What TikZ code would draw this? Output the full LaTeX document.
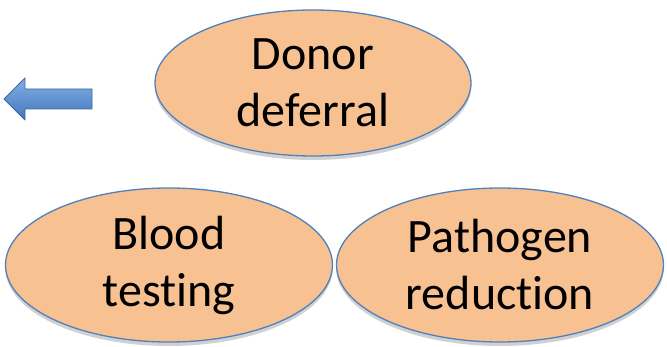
\documentclass[tikz,border=0pt]{standalone}
\usepackage{fontspec}
\setmainfont[Ligatures=NoCommon]{Carlito}
\usepackage{tikz}
\usetikzlibrary{shapes.geometric, shadows}

\definecolor{peach}{RGB}{248,193,146}
\definecolor{rimblue}{RGB}{79,129,189}
\definecolor{arrowtop}{RGB}{130,175,228}
\definecolor{arrowbot}{RGB}{68,118,190}
\definecolor{arrowrim}{RGB}{60,105,160}

\begin{document}
\begin{tikzpicture}[
        x=1pt, y=-1pt,
        every node/.style={align=center},
        measure/.style={ellipse, draw=rimblue, fill=peach, line width=1.3pt,
                        inner sep=0pt, font=\fontsize{48}{57}\selectfont,
                        drop shadow={shadow xshift=0pt, shadow yshift=-4pt,
                                     opacity=0.18, fill=black}},
        backarrow/.style={draw=arrowrim, line width=0.8pt, line join=round,
                          top color=arrowtop, bottom color=arrowbot}
    ]
        \useasboundingbox (0,0) rectangle (667,347);

        % Top: deferral of donors
        \node[measure, minimum width=316pt, minimum height=146pt] (defer) at (313,83) {Donor\\deferral};

        % Bottom row: testing and pathogen reduction
        \node[measure, minimum width=327pt, minimum height=154pt] (test) at (169,265) {Blood\\testing};
        \node[measure, minimum width=327pt, minimum height=154pt] (reduce) at (500,265) {Pathogen\\reduction};

        % Block arrow pointing back to the left
        \draw[backarrow] (4,99) -- (25,78) -- (25,89) -- (92,89)
            -- (92,109) -- (25,109) -- (25,120) -- cycle;
    \end{tikzpicture}
\end{document}
